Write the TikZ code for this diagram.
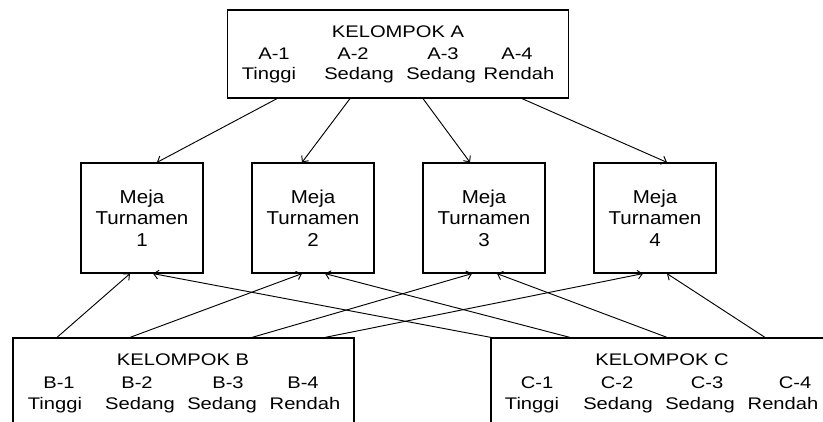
\documentclass[tikz,border=0pt]{standalone}
\usepackage{fontspec}
\setmainfont{Liberation Sans}
\newfontfamily\grpfont{Liberation Sans}[FakeStretch=1.2]
\newfontfamily\mejafont{Liberation Sans}[FakeStretch=1.1]
\usetikzlibrary{arrows.meta}

\tikzset{
  grpbox/.style={draw, line width=0.9pt, inner sep=0pt,
    minimum width=341*0.75pt, minimum height=100*0.75pt},
  mejabox/.style={draw, line width=0.9pt, inner sep=0pt,
    minimum width=122*0.75pt, minimum height=110*0.75pt, align=center,
    font=\mejafont\fontsize{14}{16.1}\selectfont},
  txt/.style={anchor=base, inner sep=0pt,
    font=\grpfont\fontsize{12.6}{14}\selectfont},
  arr/.style={-{Straight Barb[length=3.5pt,width=6.5pt]}, line width=0.7pt},
}

\begin{document}
\begin{tikzpicture}[x=0.75pt, y=-0.75pt]
  \clip (0,0) rectangle (823,421);
  % groups
  \node[grpbox, minimum height=88*0.75pt] (ka) at (398,54) {};
  \node[grpbox] (kb) at (183.5,388) {};
  \node[grpbox] (kc) at (661.5,388) {};
  % tournament tables
  \foreach \i/\x in {1/142,2/313,3/484,4/655}
    \node[mejabox] (m\i) at (\x,218) {Meja\\Turnamen\\\i};
  % group A text
  \node[txt] (ka-t) at (398,37) {KELOMPOK A};
  \foreach \n/\x in {1/274,2/353,3/443,4/517}
    \node[txt] (ka-\n) at (\x,59) {A-\n};
  \foreach \n/\x/\w in {1/269/Tinggi,2/359/Sedang,3/441/Sedang,4/519/Rendah}
    \node[txt] (ka-l\n) at (\x,79) {\w};
  % group B text
  \node[txt] (kb-t) at (183,365) {KELOMPOK B};
  \foreach \n/\x in {1/59,2/137,3/228,4/303}
    \node[txt] (kb-\n) at (\x,388) {B-\n};
  \foreach \n/\x/\w in {1/55/Tinggi,2/140/Sedang,3/222/Sedang,4/305/Rendah}
    \node[txt] (kb-l\n) at (\x,409) {\w};
  % group C text
  \node[txt] (kc-t) at (662,365) {KELOMPOK C};
  \foreach \n/\x in {1/537,2/617,3/707,4/795}
    \node[txt] (kc-\n) at (\x,388) {C-\n};
  \foreach \n/\x/\w in {1/532/Tinggi,2/618/Sedang,3/700/Sedang,4/783/Rendah}
    \node[txt] (kc-l\n) at (\x,409) {\w};
  % arrows
  \foreach \i/\s/\t in {1/-121/15,2/-48/-11,3/25/-14,4/124/12}
    \draw[arr] ([xshift=\s*0.75pt]ka.south) -- ([xshift=\t*0.75pt]m\i.north);
  \foreach \i/\s/\t in {1/-126.5/-12,2/-53.5/-11,3/68.5/-12,4/141.5/-12}
    \draw[arr] ([xshift=\s*0.75pt]kb.north) -- ([xshift=\t*0.75pt]m\i.south);
  \foreach \i/\s/\t in {1/-170.5/11,2/-91.5/12,3/5.5/13,4/103.5/12}
    \draw[arr] ([xshift=\s*0.75pt]kc.north) -- ([xshift=\t*0.75pt]m\i.south);
\end{tikzpicture}
\end{document}
